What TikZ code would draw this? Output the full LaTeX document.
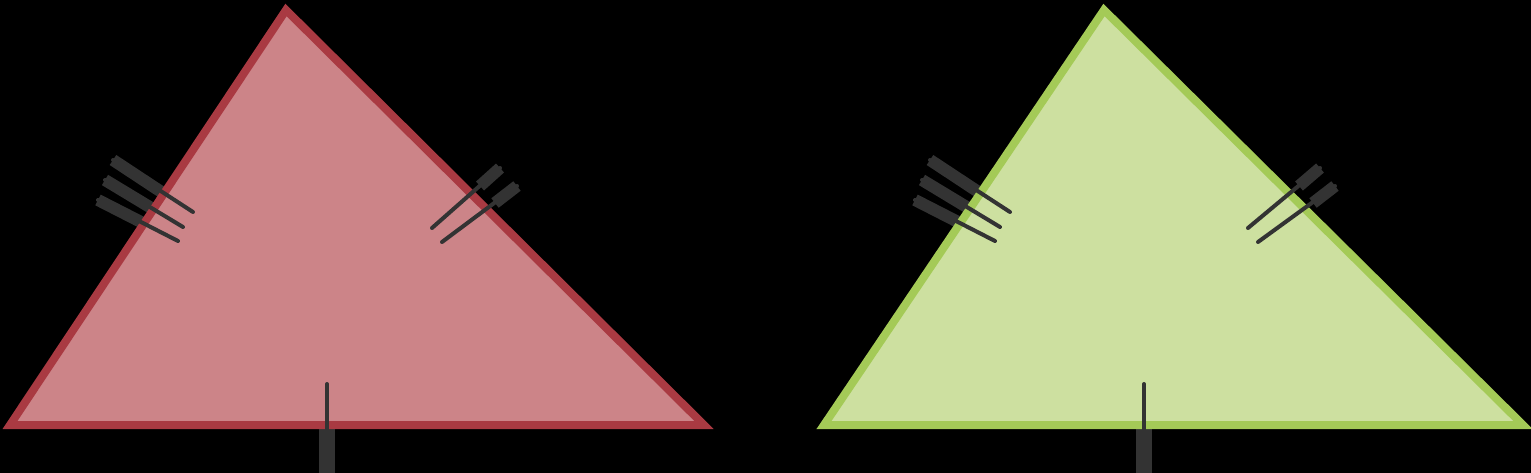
\documentclass[tikz,border=0pt]{standalone}
\usetikzlibrary{calc}
\definecolor{redstroke}{HTML}{A93A42}
\definecolor{redfill}{HTML}{CC8488}
\definecolor{greenstroke}{HTML}{A4CA57}
\definecolor{greenfill}{HTML}{CDE0A0}
\definecolor{tickgray}{HTML}{333333}
\tikzset{
  tri/.style={line width=8pt, line join=miter},
  tickthin/.style={draw=tickgray, line width=4pt, line cap=round},
  tickthick/.style={draw=tickgray, line width=12pt},
}
\begin{document}
\begin{tikzpicture}[x=1pt,y=-1pt]
\fill[black] (0,0) rectangle (1531,473);
\useasboundingbox (0,0) rectangle (1531,473);
% ---- red triangle ----
\coordinate (rA) at (10,425);
\coordinate (rB) at (286,10);
\coordinate (rC) at (704,425);
% outer parts of ticks (drawn below triangle)
\draw[tickthick] (113,160) -- (163,193);
\draw[tickthick] (105,180) -- (153,209);
\draw[tickthick] (98,200) -- (143,223);
\draw[tickthick] (500,168) -- (480,186);
\draw[tickthick] (517,186) -- (495,203);
\draw[tickthick,line width=16pt] (327,425) -- (327,473);
\filldraw[tri, draw=redstroke, fill=redfill] (rA) -- (rB) -- (rC) -- cycle;
\draw[tickthin] (113,160) -- (193,212);
\draw[tickthin] (105,180) -- (183,227);
\draw[tickthin] (98,200) -- (178,241);
\draw[tickthin] (500,168) -- (432,228);
\draw[tickthin] (517,186) -- (442,242);
\draw[tickthin] (327,384) -- (327,430);
% ---- green triangle ----
\coordinate (gA) at (824,425);
\coordinate (gB) at (1104,10);
\coordinate (gC) at (1523,425);
\draw[tickthick] (930,160) -- (980,193);
\draw[tickthick] (922,180) -- (970,209);
\draw[tickthick] (915,200) -- (960,223);
\draw[tickthick] (1320,168) -- (1299,186);
\draw[tickthick] (1335,186) -- (1313,203);
\draw[tickthick,line width=16pt] (1144,425) -- (1144,473);
\filldraw[tri, draw=greenstroke, fill=greenfill] (gA) -- (gB) -- (gC) -- cycle;
\draw[tickthin] (930,160) -- (1010,212);
\draw[tickthin] (922,180) -- (1000,227);
\draw[tickthin] (915,200) -- (995,241);
\draw[tickthin] (1320,168) -- (1248,228);
\draw[tickthin] (1335,186) -- (1258,242);
\draw[tickthin] (1144,384) -- (1144,430);
\end{tikzpicture}
\end{document}
